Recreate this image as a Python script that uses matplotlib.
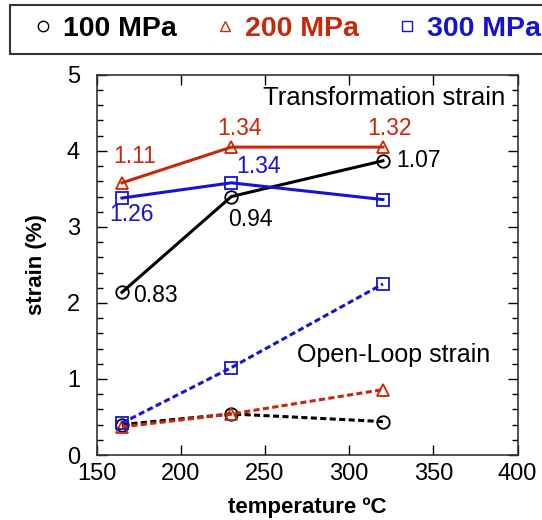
import matplotlib
matplotlib.use("Agg")
import matplotlib.pyplot as plt
from matplotlib.lines import Line2D
from matplotlib.ticker import MultipleLocator

plt.rcParams["font.family"] = ["Liberation Sans", "DejaVu Sans"]

temperature = [165, 230, 320]

# transformation strain (%)
trans_100 = [2.14, 3.40, 3.87]
trans_200 = [3.58, 4.05, 4.05]
trans_300 = [3.38, 3.58, 3.36]

# open-loop strain (%)
open_100 = [0.40, 0.54, 0.44]
open_200 = [0.37, 0.54, 0.86]
open_300 = [0.42, 1.15, 2.25]

pressures = ["100 MPa", "200 MPa", "300 MPa"]
markers = ["o", "^", "s"]
colors = ["black", "#c8280a", "#1414d2"]

# value labels: (text, x, y, colour index)
value_labels = [
    ("1.11", 172.7, 3.92, 1),
    ("1.34", 235.1, 4.30, 1),
    ("1.32", 324.2, 4.30, 1),
    ("1.34", 246.4, 3.79, 2),
    ("1.26", 170.4, 3.16, 2),
    ("0.94", 241.0, 3.10, 0),
    ("1.07", 341.4, 3.88, 0),
    ("0.83", 184.6, 2.10, 0),
]

fig = plt.figure(figsize=(5.42, 5.20), dpi=100)
ax = fig.add_axes([0.1784, 0.125, 0.7766, 0.731])

trans = [trans_100, trans_200, trans_300]
opens = [open_100, open_200, open_300]
for t, o, m, c in zip(trans, opens, markers, colors):
    ax.plot(temperature, t, color=c, lw=2.2, marker=m, ms=9,
            mfc="none", mec=c, mew=1.3, zorder=3)
    ax.plot(temperature, o, color=c, lw=2.2, ls=(0, (2.0, 1.1)), marker=m,
            ms=9, mfc="none", mec=c, mew=1.3, zorder=3)

for text, x, y, ci in value_labels:
    ax.text(x, y, text, color=colors[ci], fontsize=16.5, ha="center",
            va="center")

ax.text(392.5, 4.70, "Transformation strain", fontsize=18.5, ha="right",
        va="center")
ax.text(326.2, 1.32, "Open-Loop strain", fontsize=18, ha="center",
        va="center")

ax.set_xlim(150, 400)
ax.set_ylim(0, 5)
ax.xaxis.set_major_locator(MultipleLocator(50))
ax.yaxis.set_major_locator(MultipleLocator(1))
ax.yaxis.set_minor_locator(MultipleLocator(0.2))
ax.tick_params(which="both", direction="in", top=True, right=True,
               labelsize=17, width=1.0)
ax.tick_params(which="major", length=7)
ax.tick_params(which="minor", length=4)
ax.tick_params(axis="x", pad=6)
ax.tick_params(axis="y", pad=12)
for spine in ax.spines.values():
    spine.set_linewidth(1.2)
    spine.set_color("#333333")

ax.set_xlabel("temperature ºC", fontsize=16, fontweight="bold", va="center")
ax.set_ylabel("strain (%)", fontsize=16, fontweight="bold", va="center")
ax.xaxis.set_label_coords(0.5, -0.139)
ax.yaxis.set_label_coords(-0.144, 0.5)

handles = [Line2D([], [], ls="none", marker=m, ms=7.5, mfc="none", mec=c,
                  mew=1.0) for m, c in zip(markers, colors)]
leg = fig.legend(handles, pressures, loc="upper left",
                 bbox_to_anchor=(10 / 542, 1 - 5 / 520), ncol=3,
                 frameon=True, fancybox=False, edgecolor="black",
                 prop={"size": 20.5, "weight": "bold"}, handlelength=1.5,
                 handletextpad=-0.05, columnspacing=0.95, borderpad=0.4,
                 borderaxespad=0)
leg.get_frame().set_linewidth(1.5)
for txt, c in zip(leg.get_texts(), colors):
    txt.set_color(c)

fig.savefig("out.png", dpi=100)
